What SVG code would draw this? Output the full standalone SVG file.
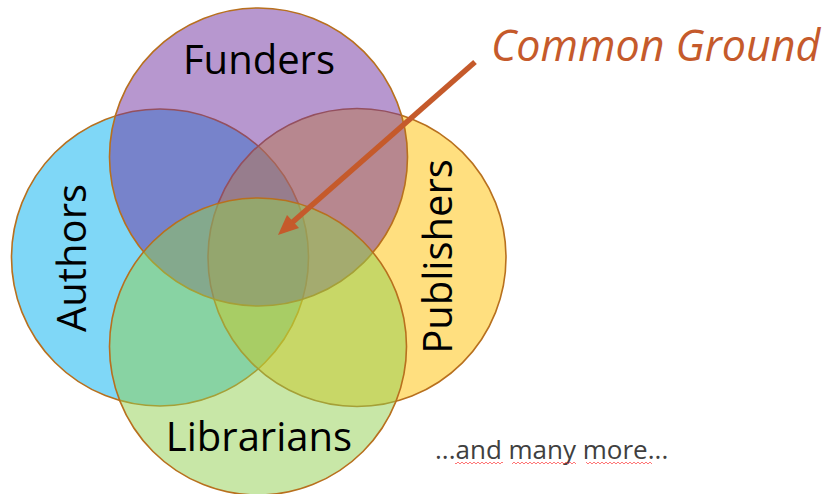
<svg xmlns="http://www.w3.org/2000/svg" width="830" height="494" viewBox="0 0 830 494">
  <defs>
    <style>
      .set { fill-opacity: 0.5; stroke: #B8701E; stroke-width: 1.6; }
      .label { font-family: "Open Sans", "DejaVu Sans", sans-serif; font-size: 40px; fill: #000; text-anchor: middle; }
      .callout { font-family: "Open Sans", "DejaVu Sans", sans-serif; font-style: italic; font-size: 43px; fill: #C55A2B; }
      .note { font-family: "Open Sans", "DejaVu Sans", sans-serif; font-size: 26px; fill: #404040; }
    </style>
    <!-- spell-check style wavy underline tile -->
    <pattern id="wave" x="0" y="461" width="4" height="4" patternUnits="userSpaceOnUse">
      <path d="M0 3 L2 1 L4 3" fill="none" stroke="#FF3B3B" stroke-width="1"/>
    </pattern>
  </defs>

  <rect width="830" height="494" fill="#FFFFFF"/>

  <!-- Venn sets, drawn bottom to top -->
  <g id="authors">
    <circle class="set" cx="160" cy="257.5" r="148.5" fill="#00B0F0"/>
  </g>
  <g id="publishers">
    <circle class="set" cx="357" cy="257.5" r="149" fill="#FFC000"/>
  </g>
  <g id="funders">
    <circle class="set" cx="258.5" cy="157" r="149" fill="#7030A0"/>
  </g>
  <g id="librarians">
    <circle class="set" cx="258" cy="346.5" r="148.5" fill="#92D050"/>
  </g>

  <!-- Set names -->
  <g id="set-labels">
    <text class="label" x="259" y="74">Funders</text>
    <text class="label" x="259" y="451">Librarians</text>
    <text class="label" transform="translate(86 258) rotate(-90)">Authors</text>
    <text class="label" transform="translate(452 256.5) rotate(-90)">Publishers</text>
  </g>

  <!-- Call-out arrow pointing at the shared centre -->
  <g id="connectors">
    <line x1="475" y1="62" x2="291" y2="223.5" stroke="#C55A2B" stroke-width="5.5"/>
    <polygon points="278,235 299,228 287,215" fill="#C55A2B"/>
  </g>

  <g id="common-ground">
    <text class="callout" x="491" y="61">Common Ground</text>
  </g>

  <g id="more-note">
    <text class="note" x="435" y="459">...and many more...</text>
    <rect x="455" y="461" width="48" height="4" fill="url(#wave)" opacity="0.7"/>
    <rect x="512" y="461" width="64" height="4" fill="url(#wave)" opacity="0.7"/>
    <rect x="586" y="461" width="66" height="4" fill="url(#wave)" opacity="0.7"/>
  </g>
</svg>
